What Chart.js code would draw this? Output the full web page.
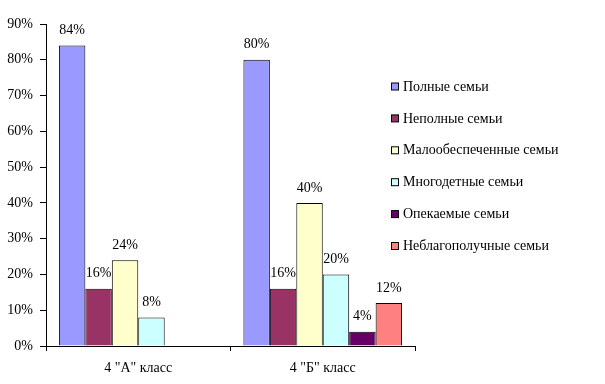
<!DOCTYPE html>
<html>
<head>
<meta charset="utf-8">
<script src="https://cdn.jsdelivr.net/npm/chart.js@4/dist/chart.umd.min.js"></script>
<style>
  html, body { margin: 0; padding: 0; background: #fff; }
  #wrap { width: 605px; height: 384px; }
</style>
</head>
<body>
<div id="wrap"><canvas id="chart" width="605" height="384"></canvas></div>
<script>
const classes = ['4 "А" класс', '4 "Б" класс']
const seriesNames = [
  'Полные семьи',
  'Неполные семьи',
  'Малообеспеченные семьи',
  'Многодетные семьи',
  'Опекаемые семьи',
  'Неблагополучные семьи'
]
const full = [84, 80]
const incomplete = [16, 16]
const lowIncome = [24, 40]
const large = [8, 20]
const guardian = [null, 4]
const troubled = [null, 12]
const yTicks = [0, 10, 20, 30, 40, 50, 60, 70, 80, 90]

const colors = ['#9999ff', '#993366', '#ffffcc', '#ccffff', '#660066', '#ff8080']
const FONT = 'Liberation Serif'

const datasets = [full, incomplete, lowIncome, large, guardian, troubled].map((values, i) => ({
  label: seriesNames[i],
  data: values,
  backgroundColor: colors[i],
  borderColor: '#000',
  borderWidth: 1,
  barPercentage: 1,
  categoryPercentage: 0.86
}))

// value labels above each bar
const valueLabels = {
  id: 'valueLabels',
  afterDatasetsDraw(chart) {
    const ctx = chart.ctx
    ctx.save()
    ctx.font = '14px ' + FONT
    ctx.fillStyle = '#000'
    ctx.textAlign = 'center'
    ctx.textBaseline = 'middle'
    chart.data.datasets.forEach((ds, i) => {
      chart.getDatasetMeta(i).data.forEach((bar, j) => {
        if (ds.data[j] == null) return
        ctx.fillText(ds.data[j] + '%', bar.x, bar.y - 15)
      })
    })
    ctx.restore()
  }
}

// legend drawn to the right, overlapping the plot's right margin like the original
const sideLegend = {
  id: 'sideLegend',
  afterDraw(chart) {
    const ctx = chart.ctx
    ctx.save()
    ctx.font = '14px ' + FONT
    ctx.textBaseline = 'middle'
    chart.data.datasets.forEach((ds, i) => {
      const y = 87 + i * 31.9
      ctx.fillStyle = ds.backgroundColor
      ctx.fillRect(391.5, y - 4, 7, 7)
      ctx.strokeStyle = '#000'
      ctx.lineWidth = 1
      ctx.strokeRect(391.5, y - 4, 7, 7)
      ctx.fillStyle = '#000'
      ctx.fillText(ds.label, 403, y)
    })
    ctx.restore()
  }
}

new Chart(document.getElementById('chart'), {
  type: 'bar',
  data: { labels: classes, datasets },
  options: {
    responsive: false,
    animation: false,
    layout: { padding: { top: 24, right: 190, left: 0, bottom: 0 } },
    plugins: {
      legend: { display: false },
      tooltip: { enabled: false }
    },
    scales: {
      x: {
        offset: true,
        grid: { offset: true, drawOnChartArea: false, drawTicks: true, tickLength: 5, color: '#000' },
        border: { color: '#000', width: 1 },
        ticks: { color: '#000', font: { family: FONT, size: 14 }, padding: 9, maxRotation: 0 },
        afterFit(scale) { scale.height = 38 }
      },
      y: {
        min: 0,
        max: 90,
        afterBuildTicks(scale) { scale.ticks = yTicks.map(v => ({ value: v })) },
        grid: { drawOnChartArea: false, drawTicks: true, tickLength: 6, color: '#000' },
        border: { color: '#000', width: 1 },
        ticks: {
          color: '#000',
          font: { family: FONT, size: 14 },
          padding: 7,
          callback: v => v + '%'
        },
        afterFit(scale) { scale.width = 46 }
      }
    }
  },
  plugins: [valueLabels, sideLegend]
})
</script>
</body>
</html>
